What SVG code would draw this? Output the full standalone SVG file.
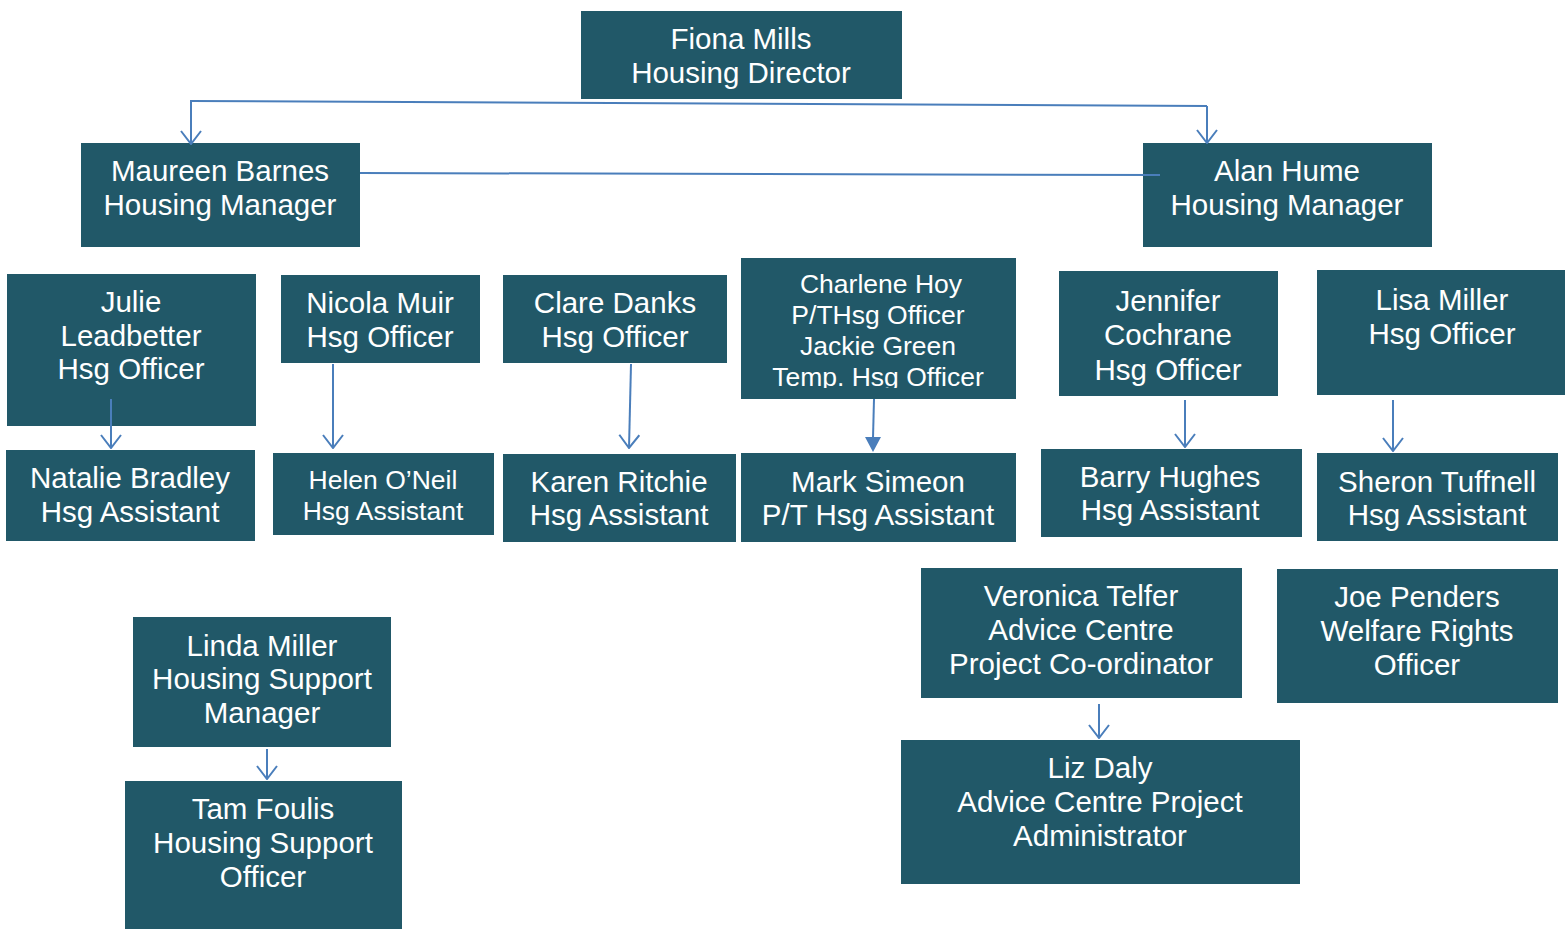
<svg xmlns="http://www.w3.org/2000/svg" width="1565" height="930" viewBox="0 0 1565 930">
<style>
.box{fill:#215868}
.t{font-family:"Liberation Sans",Arial,sans-serif;font-size:29.5px;fill:#ffffff;text-anchor:middle}
.s{font-size:26.5px}
.c{fill:none;stroke:#4A7EBB;stroke-width:2}
</style>
<defs>
<marker id="v" viewBox="0 0 20 22" refX="19" refY="11" markerWidth="20" markerHeight="22" markerUnits="userSpaceOnUse" orient="auto">
<path d="M6,1 L19,11 L6,21" fill="none" stroke="#4A7EBB" stroke-width="2"/>
</marker>
<clipPath id="chc"><rect x="741" y="258" width="275" height="130"/></clipPath>
</defs>
<g id="fiona"><rect class="box" x="581" y="11" width="321" height="88"/><text class="t" x="741" y="49">Fiona Mills</text><text class="t" x="741" y="83">Housing Director</text></g>
<g id="maureen"><rect class="box" x="81" y="143" width="279" height="104"/><text class="t" x="220" y="181">Maureen Barnes</text><text class="t" x="220" y="215">Housing Manager</text></g>
<g id="alan"><rect class="box" x="1143" y="143" width="289" height="104"/><text class="t" x="1287" y="181">Alan Hume</text><text class="t" x="1287" y="215">Housing Manager</text></g>
<g id="julie"><rect class="box" x="7" y="274" width="249" height="152"/><text class="t" x="131" y="312">Julie</text><text class="t" x="131" y="346">Leadbetter</text><text class="t" x="131" y="379">Hsg Officer</text></g>
<g id="nicola"><rect class="box" x="281" y="275" width="199" height="88"/><text class="t" x="380" y="313">Nicola Muir</text><text class="t" x="380" y="347">Hsg Officer</text></g>
<g id="clare"><rect class="box" x="503" y="275" width="224" height="88"/><text class="t" x="615" y="313">Clare Danks</text><text class="t" x="615" y="347">Hsg Officer</text></g>
<g id="charlene"><rect class="box" x="741" y="258" width="275" height="141"/><g clip-path="url(#chc)"><text class="t s" x="881" y="293">Charlene Hoy</text><text class="t s" x="878" y="324">P/THsg Officer</text><text class="t s" x="878" y="355">Jackie Green</text><text class="t s" x="878" y="386">Temp. Hsg Officer</text></g></g>
<g id="jennifer"><rect class="box" x="1059" y="271" width="219" height="125"/><text class="t" x="1168" y="311">Jennifer</text><text class="t" x="1168" y="345">Cochrane</text><text class="t" x="1168" y="380">Hsg Officer</text></g>
<g id="lisa"><rect class="box" x="1317" y="270" width="248" height="125"/><text class="t" x="1442" y="310">Lisa Miller</text><text class="t" x="1442" y="344">Hsg Officer</text></g>
<g id="natalie"><rect class="box" x="6" y="450" width="249" height="91"/><text class="t" x="130" y="488">Natalie Bradley</text><text class="t" x="130" y="522">Hsg Assistant</text></g>
<g id="helen"><rect class="box" x="273" y="453" width="221" height="82"/><text class="t s" x="383" y="489">Helen O’Neil</text><text class="t s" x="383" y="520">Hsg Assistant</text></g>
<g id="karen"><rect class="box" x="503" y="454" width="233" height="88"/><text class="t" x="619" y="492">Karen Ritchie</text><text class="t" x="619" y="525">Hsg Assistant</text></g>
<g id="mark"><rect class="box" x="741" y="453" width="275" height="89"/><text class="t" x="878" y="492">Mark Simeon</text><text class="t" x="878" y="525">P/T Hsg Assistant</text></g>
<g id="barry"><rect class="box" x="1041" y="449" width="261" height="88"/><text class="t" x="1170" y="487">Barry Hughes</text><text class="t" x="1170" y="520">Hsg Assistant</text></g>
<g id="sheron"><rect class="box" x="1317" y="453" width="241" height="88"/><text class="t" x="1437" y="492">Sheron Tuffnell</text><text class="t" x="1437" y="525">Hsg Assistant</text></g>
<g id="veronica"><rect class="box" x="921" y="568" width="321" height="130"/><text class="t" x="1081" y="606">Veronica Telfer</text><text class="t" x="1081" y="640">Advice Centre</text><text class="t" x="1081" y="674">Project Co-ordinator</text></g>
<g id="joe"><rect class="box" x="1277" y="569" width="281" height="134"/><text class="t" x="1417" y="607">Joe Penders</text><text class="t" x="1417" y="641">Welfare Rights</text><text class="t" x="1417" y="675">Officer</text></g>
<g id="linda"><rect class="box" x="133" y="617" width="258" height="130"/><text class="t" x="262" y="656">Linda Miller</text><text class="t" x="262" y="689">Housing Support</text><text class="t" x="262" y="723">Manager</text></g>
<g id="tam"><rect class="box" x="125" y="781" width="277" height="148"/><text class="t" x="263" y="819">Tam Foulis</text><text class="t" x="263" y="853">Housing Support</text><text class="t" x="263" y="887">Officer</text></g>
<g id="liz"><rect class="box" x="901" y="740" width="399" height="144"/><text class="t" x="1100" y="778">Liz Daly</text><text class="t" x="1100" y="812">Advice Centre Project</text><text class="t" x="1100" y="846">Administrator</text></g>
<g id="connectors">
<path class="c" d="M191,101 L1207,106"/>
<path class="c" d="M191,100 L191,144" marker-end="url(#v)"/>
<path class="c" d="M1207,106 L1207,143" marker-end="url(#v)"/>
<path class="c" d="M360,173 L1160,175"/>
<path class="c" d="M111,399 L111,448" marker-end="url(#v)"/>
<path class="c" d="M333,364 L333,448" marker-end="url(#v)"/>
<path class="c" d="M631,364 L629,448" marker-end="url(#v)"/>
<path class="c" d="M874,399 L873,438"/>
<path d="M865,437 L881,437 L873,452 Z" fill="#4A7EBB"/>
<path class="c" d="M1185,400 L1185,447" marker-end="url(#v)"/>
<path class="c" d="M1393,400 L1393,451" marker-end="url(#v)"/>
<path class="c" d="M1099,704 L1099,738" marker-end="url(#v)"/>
<path class="c" d="M267,749 L267,779" marker-end="url(#v)"/>
</g>
</svg>
